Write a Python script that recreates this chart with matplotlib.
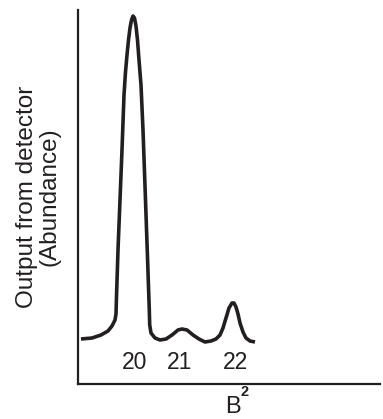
"""
plot.py  -  mass spectrum sketch: detector output vs B^2
Draws the three-peak trace (20, 21, 22) with bare axes.
"""

import matplotlib
matplotlib.use("Agg")
import matplotlib.pyplot as plt

# ── Data (arbitrary units) ────────────────────────────────────────────────────

trace_x = [3, 14, 23, 30, 34, 37, 38, 38.4, 40, 42, 44, 46, 47.5, 49, 50.5,
           52, 53.5, 55, 56.5, 58, 59.5, 61, 63, 65, 67.5, 69.7, 71.3, 71.7,
           73, 77, 82, 88, 94, 100, 104, 109, 115, 121, 127, 133, 138, 142,
           145, 148, 151, 154, 156, 158, 160, 162, 165, 168, 172, 177]
trace_y = [45, 46, 49, 53, 58, 64, 70, 84, 134, 184, 234, 289, 312, 329,
           344, 356, 364, 368, 366, 358, 344, 324, 299, 254, 184, 121, 74,
           59, 51, 46, 44, 45, 49, 54, 55, 54, 49, 45, 42, 43, 45, 49, 56,
           66, 76, 81, 81, 77, 70, 61, 52, 46, 43, 42]

peak_labels = ["20", "21", "22"]
peak_x      = [57, 102, 157]
label_y     = 22

X_MAX, Y_MAX = 302, 374
INK = "#231f20"

# ── Figure ────────────────────────────────────────────────────────────────────

W, H = 383, 419
fig = plt.figure(figsize=(W / 100, H / 100), dpi=100)
plt.rcParams["font.family"] = ["Liberation Sans", "DejaVu Sans"]

ax = fig.add_axes([78 / W, 35 / H, 302 / W, 374 / H])
ax.plot(trace_x, trace_y, color=INK, lw=2.6,
        solid_joinstyle="round", solid_capstyle="butt")

for lab, x in zip(peak_labels, peak_x):
    ax.text(x, label_y, lab, ha="center", va="center", fontsize=16.5, color=INK)

ax.set_xlim(0, X_MAX)
ax.set_ylim(0, Y_MAX)
ax.set_xticks([])
ax.set_yticks([])
for side in ("top", "right"):
    ax.spines[side].set_visible(False)
for side in ("left", "bottom"):
    ax.spines[side].set_linewidth(1.6)
    ax.spines[side].set_color(INK)

# axis titles
fig.text(38 / W, 1 - 197 / H, "Output from detector\n(Abundance)",
         rotation=90, ha="center", va="center", multialignment="center",
         linespacing=1.05, fontsize=17.5, color=INK)
fig.text(233 / W, 1 - 407 / H, "B", ha="center", va="center",
         fontsize=17, color=INK)
fig.text(245 / W, 1 - 392 / H, "2", ha="center", va="center",
         fontsize=10.5, fontweight="bold", color=INK)

fig.savefig("out.png", dpi=100)
